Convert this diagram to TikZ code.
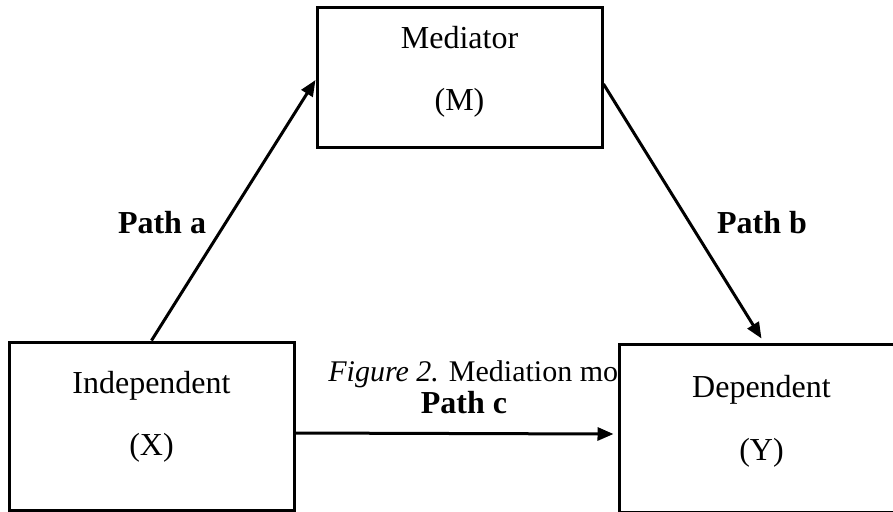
\documentclass[tikz,border=0pt]{standalone}
\usepackage{fontspec}
\setmainfont{Liberation Serif}
\usetikzlibrary{arrows.meta,calc}
\begin{document}
\begin{tikzpicture}[x=0.5pt,y=-0.5pt,
  varbox/.style={draw=black,line width=1.5pt,fill=white,inner sep=0pt,
    minimum width=142.5pt},
  lbl/.style={inner sep=0pt,anchor=base,font=\fontsize{16}{19}\selectfont},
  pathlbl/.style={inner sep=0pt,anchor=base,font=\fontsize{16}{19}\selectfont\bfseries},
  capt/.style={inner sep=0pt,anchor=base west,font=\fontsize{15}{18}\selectfont},
  arr/.style={line width=1.5pt,-{Triangle[length=8pt,width=6.5pt]}}
]
\useasboundingbox (0,0) rectangle (893,511);
\clip (0,0) rectangle (893,511);

% caption (partly hidden by the Dependent box)
\node[capt] (cap) at (328,381) {\textit{Figure 2.} Mediation model};

% boxes
\node[varbox,minimum height=70pt] (med) at (459.5,77) {};
\node[varbox,minimum height=84pt] (ind) at (151.5,426) {};
\node[varbox,minimum height=84pt] (dep) at (761.5,428) {};

% box texts
\node[lbl] (medA) at (459.5,48) {Mediator};
\node[lbl] (medB) at (459.5,110) {(M)};
\node[lbl] (indA) at (151.5,393) {Independent};
\node[lbl] (indB) at (151.5,455) {(X)};
\node[lbl] (depA) at (761.5,397) {Dependent};
\node[lbl] (depB) at (761.5,460) {(Y)};

% path labels
\node[pathlbl] (pa) at (162,233) {Path a};
\node[pathlbl] (pb) at (762,233) {Path b};
\node[pathlbl] (pc) at (464,413) {Path c};

% connectors
\draw[arr] (ind.north) -- ([yshift=-1.5pt]med.west);
\draw[arr] ([yshift=-3.5pt]med.east) -- ([yshift=2pt]dep.north);
\draw[arr] ([yshift=-3.5pt]ind.east) -- ([yshift=-3pt,xshift=-2pt]dep.west);
\end{tikzpicture}
\end{document}
